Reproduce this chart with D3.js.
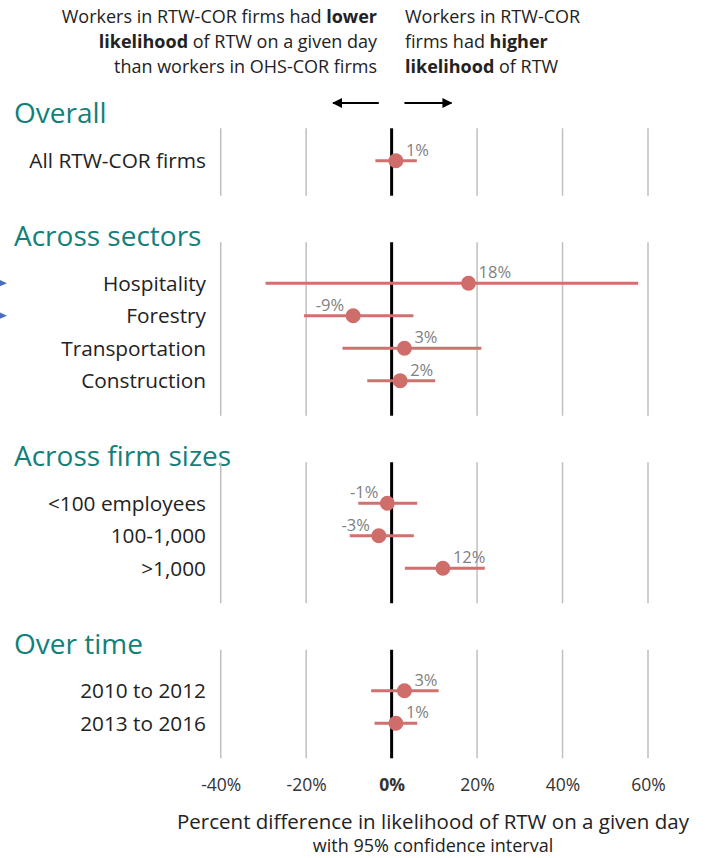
<!DOCTYPE html>
<html>
<head>
<meta charset="utf-8">
<script src="https://cdnjs.cloudflare.com/ajax/libs/d3/7.8.5/d3.min.js"></script>
<style>
  body { margin: 0; background: #fff; }
  text { font-family: "Open Sans", "Noto Sans", sans-serif; }
</style>
</head>
<body>
<div id="chart"></div>
<script>
// data
var sections = ["Overall", "Across sectors", "Across firm sizes", "Over time"]
var labels = [
  ["All RTW-COR firms"],
  ["Hospitality", "Forestry", "Transportation", "Construction"],
  ["<100 employees", "100-1,000", ">1,000"],
  ["2010 to 2012", "2013 to 2016"]
]
var estimates = [[1], [18, -9, 3, 2], [-1, -3, 12], [3, 1]]
var lower = [[-3.8], [-29.5, -20.5, -11.5, -5.7], [-7.8, -9.8, 3.1], [-4.8, -4]]
var upper = [[5.9], [57.7, 5.1, 21, 10.2], [6, 5.2, 21.8], [11, 6]]
var ticks = [-40, -20, 0, 20, 40, 60]

var width = 709, height = 858

var svg = d3.select("#chart").append("svg")
  .attr("width", width)
  .attr("height", height)

var x = d3.scaleLinear().domain([-40, 60]).range([220.7, 648])

// rows are laid out in slots, one slot per category, with a gap for each header
var slot = d3.scaleLinear().domain([0, 1]).range([160.7, 193.2])
var gap = 2.77

var rows = []
var panels = []
var s = 0
labels.forEach(function(list, i) {
  if (i > 0) s += gap
  var first = s
  list.forEach(function(name, j) {
    rows.push({
      section: i, name: name, slot: s,
      est: estimates[i][j], lo: lower[i][j], hi: upper[i][j]
    })
    s += 1
  })
  panels.push({ section: i, first: first, last: s - 1 })
})

// top explanation text
var left = svg.append("text")
  .attr("text-anchor", "end")
  .attr("font-size", 18)
  .attr("fill", "#222")
var l1 = left.append("tspan").attr("x", 377).attr("y", 23)
l1.append("tspan").text("Workers in RTW-COR firms had ")
l1.append("tspan").attr("font-weight", "bold").text("lower")
var l2 = left.append("tspan").attr("x", 377).attr("y", 48)
l2.append("tspan").attr("font-weight", "bold").text("likelihood")
l2.append("tspan").text(" of RTW on a given day")
left.append("tspan").attr("x", 377).attr("y", 73).text("than workers in OHS-COR firms")

var right = svg.append("text")
  .attr("font-size", 18)
  .attr("fill", "#222")
right.append("tspan").attr("x", 405).attr("y", 23).text("Workers in RTW-COR")
var r2 = right.append("tspan").attr("x", 405).attr("y", 48)
r2.append("tspan").text("firms had ")
r2.append("tspan").attr("font-weight", "bold").text("higher")
var r3 = right.append("tspan").attr("x", 405).attr("y", 73)
r3.append("tspan").attr("font-weight", "bold").text("likelihood")
r3.append("tspan").text(" of RTW")

// arrows
svg.append("defs").append("marker")
  .attr("id", "head")
  .attr("viewBox", "0 0 10 10")
  .attr("refX", 9).attr("refY", 5)
  .attr("markerWidth", 5).attr("markerHeight", 5)
  .attr("orient", "auto")
  .append("path")
  .attr("d", "M0,0L10,5L0,10z")
  .attr("fill", "#000")

svg.append("line")
  .attr("x1", x(-3)).attr("x2", x(-13.7))
  .attr("y1", 103).attr("y2", 103)
  .attr("stroke", "#000").attr("stroke-width", 2)
  .attr("marker-end", "url(#head)")
svg.append("line")
  .attr("x1", x(3)).attr("x2", x(14))
  .attr("y1", 103).attr("y2", 103)
  .attr("stroke", "#000").attr("stroke-width", 2)
  .attr("marker-end", "url(#head)")

// panels: header, gridlines and the zero line
panels.forEach(function(p) {
  var top = slot(p.first) - (p.section == 0 ? 32.4 : 41)
  var bottom = slot(p.last) + 35

  svg.append("text")
    .attr("x", 14)
    .attr("y", p.section == 0 ? top - 5 : top + 4)
    .attr("font-size", 28)
    .attr("fill", "#138079")
    .text(sections[p.section])

  var g = svg.append("g")
  g.selectAll(".grid")
    .data(ticks.filter(function(t) { return t != 0 }))
    .enter().append("line")
    .attr("class", "grid")
    .attr("x1", function(d) { return x(d) })
    .attr("x2", function(d) { return x(d) })
    .attr("y1", top).attr("y2", bottom)
    .attr("stroke", "#bfbfbf")
    .attr("stroke-width", 1.5)
  g.append("line")
    .attr("x1", x(0)).attr("x2", x(0))
    .attr("y1", top).attr("y2", bottom)
    .attr("stroke", "#000")
    .attr("stroke-width", 3)
})

// category labels
svg.selectAll(".cat")
  .data(rows)
  .enter().append("text")
  .attr("class", "cat")
  .attr("x", 206)
  .attr("y", function(d) { return slot(d.slot) })
  .attr("dy", "0.35em")
  .attr("text-anchor", "end")
  .attr("font-size", 20.8)
  .attr("fill", "#222")
  .text(function(d) { return d.name })

// confidence intervals
svg.selectAll(".ci")
  .data(rows)
  .enter().append("line")
  .attr("class", "ci")
  .attr("x1", function(d) { return x(d.lo) })
  .attr("x2", function(d) { return x(d.hi) })
  .attr("y1", function(d) { return slot(d.slot) })
  .attr("y2", function(d) { return slot(d.slot) })
  .attr("stroke", "#d0716f")
  .attr("stroke-width", 3)

svg.selectAll(".pt")
  .data(rows)
  .enter().append("circle")
  .attr("class", "pt")
  .attr("cx", function(d) { return x(d.est) })
  .attr("cy", function(d) { return slot(d.slot) })
  .attr("r", 7.5)
  .attr("fill", "#cf6d6a")

svg.selectAll(".val")
  .data(rows)
  .enter().append("text")
  .attr("class", "val")
  .attr("x", function(d) { return x(d.est) + (d.est < 0 ? -9 : 10) })
  .attr("y", function(d) { return slot(d.slot) - 5 })
  .attr("text-anchor", function(d) { return d.est < 0 ? "end" : "start" })
  .attr("font-size", 16.5)
  .attr("fill", "#7f7f7f")
  .text(function(d) { return d.est + "%" })

// small markers at the left edge
svg.selectAll(".flag")
  .data(rows.filter(function(d) { return d.name == "Hospitality" || d.name == "Forestry" }))
  .enter().append("path")
  .attr("class", "flag")
  .attr("d", function(d) {
    var y = slot(d.slot)
    return "M-2," + (y - 4) + "L7," + y + "L-2," + (y + 4) + "z"
  })
  .attr("fill", "#4a6fc0")

// x axis
var axisY = slot(panels[3].last) + 52
var axis = svg.append("g")
  .attr("transform", "translate(0," + axisY + ")")
  .call(d3.axisBottom(x).tickValues(ticks).tickSize(0)
    .tickFormat(function(d) { return d + "%" }))
axis.select(".domain").remove()
axis.selectAll("text")
  .attr("font-size", 17.5)
  .attr("fill", "#333")
  .attr("font-family", "Open Sans, sans-serif")
  .attr("font-weight", function(d) { return d == 0 ? "bold" : "normal" })

svg.append("text")
  .attr("x", 433).attr("y", 829)
  .attr("text-anchor", "middle")
  .attr("font-size", 20.5)
  .attr("fill", "#222")
  .text("Percent difference in likelihood of RTW on a given day")
svg.append("text")
  .attr("x", 433).attr("y", 852)
  .attr("text-anchor", "middle")
  .attr("font-size", 18)
  .attr("fill", "#222")
  .text("with 95% confidence interval")
</script>
</body>
</html>
